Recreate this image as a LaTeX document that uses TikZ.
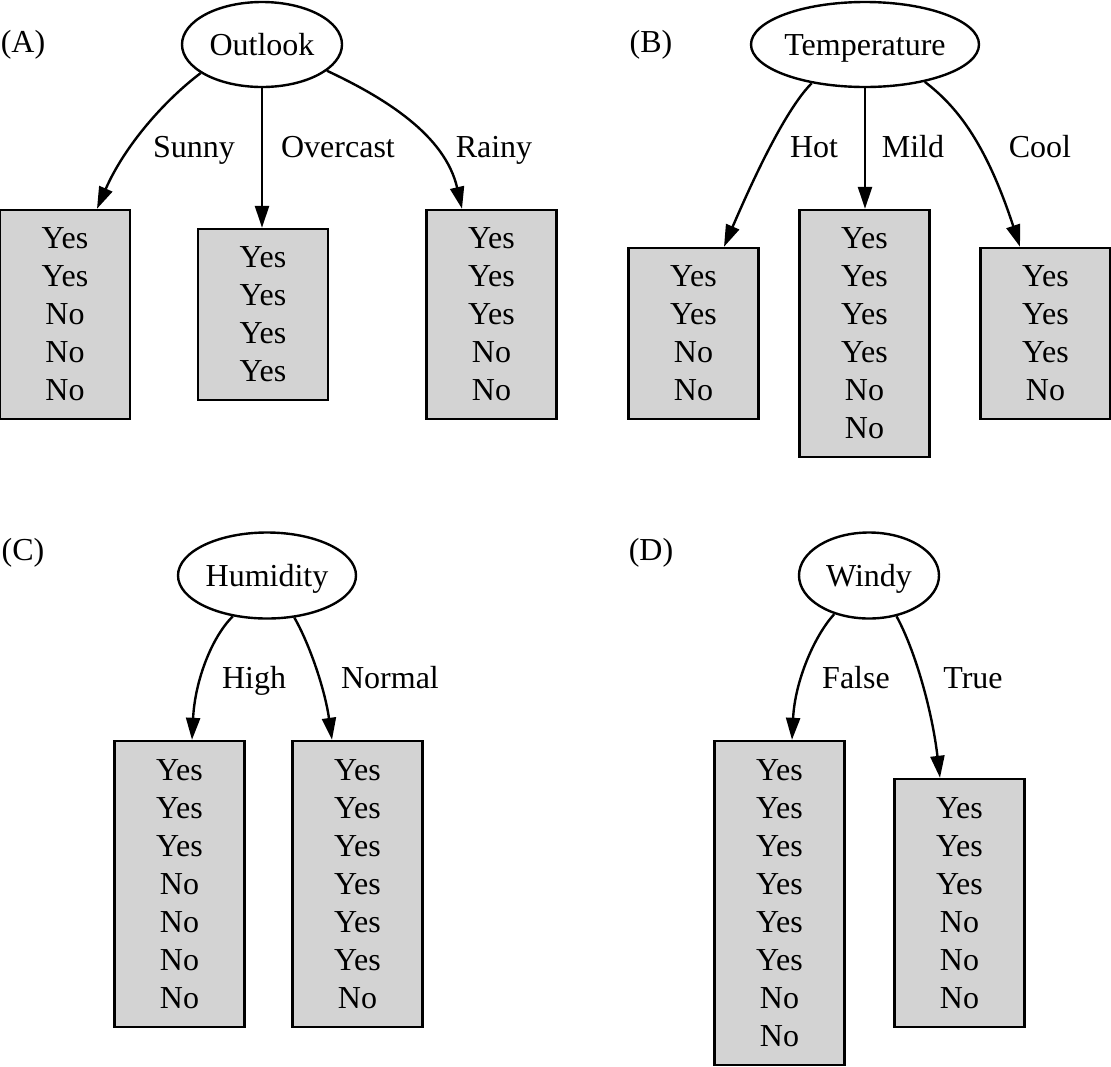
\documentclass[tikz,border=0pt]{standalone}
\usepackage{fontspec}
\setmainfont{Liberation Serif}
\usetikzlibrary{shapes.geometric,arrows.meta}
\definecolor{boxgray}{RGB}{211,211,211}
\tikzset{
  txt/.style={font=\fontsize{32}{38}\selectfont, inner sep=0pt},
  lbl/.style={txt, text height=21pt, text depth=0pt},
  ell/.style={lbl, draw, ellipse, line width=2.4pt, inner sep=0pt},
  box/.style={txt, draw, fill=boxgray, line width=2.4pt, align=center, minimum width=130pt},
  arr/.style={line width=2.4pt, -{Triangle[length=22pt,width=14pt]}}
}
\begin{document}
\begin{tikzpicture}[x=1pt,y=-1pt]
\useasboundingbox (0,0) rectangle (1111,1066);
% ---------- (A)
\node[txt] (la) at (23,45) {(A)};
\node[ell, minimum width=160pt, minimum height=85pt] (outlook) at (262,44.5) {Outlook};
\node[box, minimum height=209pt] (a1) at (65,314.5) {Yes\\Yes\\No\\No\\No};
\node[box, minimum height=171pt] (a2) at (263,314.5) {Yes\\Yes\\Yes\\Yes};
\node[box, minimum height=209pt] (a3) at (491.5,314.5) {Yes\\Yes\\Yes\\No\\No};
\node[lbl] (sunny) at (194,147) {Sunny};
\node[lbl] (overcast) at (338,147) {Overcast};
\node[lbl] (rainy) at (494,147) {Rainy};
\draw[arr] (outlook.205) .. controls (165,100) and (125,145) .. ([xshift=32pt]a1.north);
\draw[arr] (outlook.south) -- (outlook.south |- a2.north);
\draw[arr] (outlook.338) .. controls (385,98) and (445,135) .. ([xshift=-29.5pt]a3.north);
% ---------- (B)
\node[txt] (lb) at (651,45) {(B)};
\node[ell, minimum width=216pt, minimum height=85pt] (temp) at (865,44.5) {Temperature};
\node[box, minimum height=171pt] (b1) at (693.5,333.5) {Yes\\Yes\\No\\No};
\node[box, minimum height=247pt] (b2) at (864.5,333.5) {Yes\\Yes\\Yes\\Yes\\No\\No};
\node[box, minimum height=171pt] (b3) at (1045.5,333.5) {Yes\\Yes\\Yes\\No};
\node[lbl] (hot) at (814,147) {Hot};
\node[lbl] (mild) at (913,147) {Mild};
\node[lbl] (cool) at (1040,147) {Cool};
\draw[arr] (temp.216) .. controls (795,100) and (770,140) .. ([xshift=30.5pt]b1.north);
\draw[arr] (temp.south) -- (temp.south |- b2.north);
\draw[arr] (temp.328) .. controls (955,105) and (985,140) .. ([xshift=-25.5pt]b3.north);
% ---------- (C)
\node[txt] (lc) at (23,553) {(C)};
\node[ell, minimum width=178pt, minimum height=86pt] (hum) at (267,575.5) {Humidity};
\node[box, minimum height=286pt] (c1) at (179.5,884) {Yes\\Yes\\Yes\\No\\No\\No\\No};
\node[box, minimum height=286pt] (c2) at (357.5,884) {Yes\\Yes\\Yes\\Yes\\Yes\\Yes\\No};
\node[lbl] (high) at (254,678) {High};
\node[lbl] (normal) at (390,678) {Normal};
\draw[arr] (hum.230) .. controls (212,637) and (195,680) .. ([xshift=12.5pt]c1.north);
\draw[arr] (hum.303) .. controls (310,645) and (325,690) .. ([xshift=-25.5pt]c2.north);
% ---------- (D)
\node[txt] (ld) at (651,553) {(D)};
\node[ell, minimum width=140pt, minimum height=86pt] (windy) at (869,575.5) {Windy};
\node[box, minimum height=324pt] (d1) at (779.5,903) {Yes\\Yes\\Yes\\Yes\\Yes\\Yes\\No\\No};
\node[box, minimum height=248pt] (d2) at (959.5,903) {Yes\\Yes\\Yes\\No\\No\\No};
\node[lbl] (false) at (856,678) {False};
\node[lbl] (true) at (973,678) {True};
\draw[arr] (windy.228) .. controls (815,635) and (795,680) .. ([xshift=12.5pt]d1.north);
\draw[arr] (windy.304) .. controls (915,650) and (932,710) .. ([xshift=-19.5pt]d2.north);
\end{tikzpicture}
\end{document}
